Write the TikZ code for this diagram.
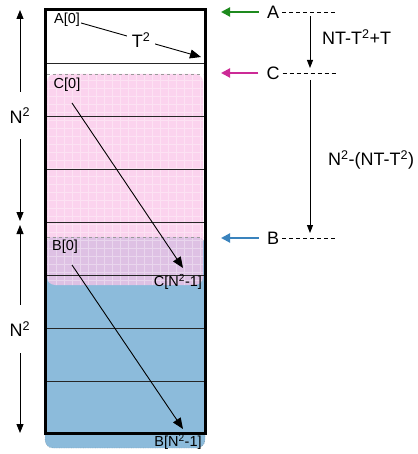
\documentclass[tikz,border=0pt]{standalone}
\usepackage{fontspec}
\setmainfont{Liberation Sans}
\usetikzlibrary{arrows.meta,positioning}
\definecolor{BufPink}{HTML}{FAC4E8}
\definecolor{BufBlue}{HTML}{8CBBDB}
\definecolor{PtrA}{HTML}{1E8A1E}
\definecolor{PtrC}{HTML}{CC2A96}
\definecolor{PtrB}{HTML}{3A83BD}
\definecolor{EdgeGray}{HTML}{9A9A9A}
\tikzset{
  rowline/.style={line width=0.9pt, draw=black!85},
  bufframe/.style={line width=3pt, draw=black},
  idx/.style={font=\fontsize{14.5}{16}\selectfont, inner sep=1pt},
  big/.style={font=\fontsize{18}{20}\selectfont, inner sep=1pt},
  walk/.style={-{Triangle[length=11pt,width=9pt]}, line width=0.9pt},
  dimarrow/.style={{Triangle[length=9pt,width=7pt]}-{Triangle[length=9pt,width=7pt]}, line width=0.9pt},
  gaparrow/.style={-{Triangle[length=8pt,width=6pt]}, line width=0.9pt},
  ptr/.style={-{Triangle[length=9pt,width=9pt]}, line width=2pt, draw=#1},
  markline/.style={dash pattern=on 4pt off 3pt, line width=0.8pt},
}
\begin{document}
\begin{tikzpicture}[x=1pt,y=-1pt]
\useasboundingbox (0,0) rectangle (417,454);
% ===================== buffer contents
\fill[BufBlue, rounded corners=8pt] (45,237) rectangle (205,448);
\draw[dotted, draw=black!60, rounded corners=8pt] (45,237) rectangle (205,448);
\fill[BufPink, opacity=0.75, rounded corners=8pt] (47,74) rectangle (203,285);
\begin{scope}
  \clip[rounded corners=8pt] (47,74) rectangle (203,285);
  \draw[white, opacity=0.35, line width=0.6pt, step=8pt] (40,70) grid (210,290);
\end{scope}
\draw[dashed, draw=EdgeGray, line width=0.8pt] (47,74) -- (203,74);
\draw[dashed, draw=EdgeGray, line width=0.8pt] (47,237) -- (203,237);
% rows
\foreach \y in {63,116,...,381}{
  \draw[rowline] (45,\y) -- (205,\y);
}
\draw[bufframe] (45,10) rectangle (205,433);
% ===================== sizes on the left
\coordinate (topL) at (20,10);
\coordinate (midLa) at (20,221);
\coordinate (midLb) at (20,225);
\coordinate (botL) at (20,433);
\draw[dimarrow] (topL) -- node[big, fill=white, inner ysep=16pt] (n1) {N\textsuperscript{2}} (midLa);
\draw[dimarrow] (midLb) -- node[big, fill=white, inner ysep=16pt] (n2) {N\textsuperscript{2}} (botL);
% ===================== walks through the buffer
\node[idx] (a0) at (67,20) {A[0]};
\coordinate (aend) at (201,57);
\draw[walk] ([yshift=-3pt]a0.east) -- node[big, fill=white, inner xsep=5pt] (t2) {T\textsuperscript{2}} (aend);
\node[idx] (c0) at (67,85) {C[0]};
\node[idx] (cN) at (178,282) {C[N\textsuperscript{2}-1]};
\coordinate (cstart) at (72,103);
\coordinate (cend) at (183,268);
\draw[walk] (cstart) -- (cend);
\node[idx] (b0) at (65,247) {B[0]};
\node[idx] (bN) at (178,442) {B[N\textsuperscript{2}-1]};
\coordinate (bstart) at (72,265);
\coordinate (bend) at (183,429);
\draw[walk] (bstart) -- (bend);
% ===================== pointers on the right
\foreach \nm/\yy/\col in {A/12/PtrA, C/73/PtrC, B/238/PtrB}{
  \node[big] (\nm) at (273,\yy) {\nm};
  \coordinate (\nm in) at (221,\yy);
  \coordinate (\nm out) at (338,\yy);
  \draw[ptr=\col, shorten <=7pt] (\nm.west) -- (\nm in);
  \draw[markline, shorten <=2pt] (\nm.east) -- (\nm out);
}
\coordinate (d1a) at (310,16);
\coordinate (d1b) at (310,68);
\coordinate (d2a) at (310,80);
\coordinate (d2b) at (310,233);
\draw[gaparrow] (d1a) -- (d1b);
\draw[gaparrow] (d2a) -- (d2b);
\node[big, anchor=west] (g1) at (321,37) {NT-T\textsuperscript{2}+T};
\node[big, anchor=west] (g2) at (327,160) {N\textsuperscript{2}-(NT-T\textsuperscript{2})};
\end{tikzpicture}
\end{document}
